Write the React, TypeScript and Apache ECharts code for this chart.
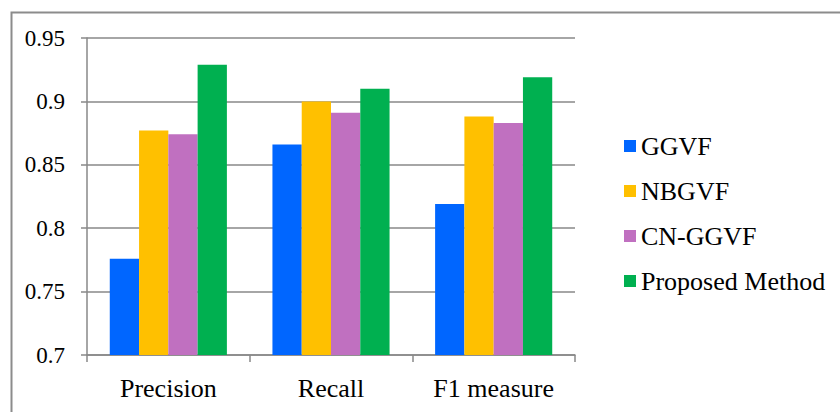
import React, { useEffect, useRef } from "react";
import * as echarts from "echarts";

const categories = ["Precision", "Recall", "F1 measure"];
const seriesNames = ["GGVF", "NBGVF", "CN-GGVF", "Proposed Method"];
const ggvf = [0.776, 0.866, 0.819];
const nbgvf = [0.877, 0.9, 0.888];
const cnggvf = [0.874, 0.891, 0.883];
const proposed = [0.929, 0.91, 0.919];
const colors = ["#0066FF", "#FFC000", "#C070C0", "#00B050"];
const yMin = 0.7;
const yMax = 0.95;
const yStep = 0.05;

const FONT = "Liberation Serif";

export default function App() {
  const ref = useRef<HTMLDivElement>(null);
  useEffect(() => {
    if (!ref.current) return;
    const chart = echarts.init(ref.current, undefined, { renderer: "svg" });
    const values = [ggvf, nbgvf, cnggvf, proposed];
    chart.setOption({
      animation: false,
      backgroundColor: "#ffffff",
      textStyle: { fontFamily: FONT, color: "#000" },
      grid: { left: 87, right: 265, top: 38, bottom: 57, containLabel: false },
      legend: {
        orient: "vertical",
        left: 619,
        top: 128,
        icon: "rect",
        itemWidth: 12,
        itemHeight: 12,
        itemGap: 19,
        textStyle: { fontFamily: FONT, fontSize: 26, color: "#000", lineHeight: 26 },
        data: seriesNames,
      },
      xAxis: {
        type: "category",
        data: categories,
        axisLine: { show: true, lineStyle: { color: "#888888", width: 1.5 } },
        axisTick: { show: true, length: 7, lineStyle: { color: "#888888", width: 1.5 } },
        axisLabel: { fontFamily: FONT, fontSize: 26, color: "#000", margin: 20 },
      },
      yAxis: {
        type: "value",
        min: yMin,
        max: yMax,
        interval: yStep,
        axisLine: { show: true, lineStyle: { color: "#888888", width: 1.5 } },
        axisTick: { show: true, length: 6, lineStyle: { color: "#888888", width: 1.5 } },
        splitLine: { show: true, lineStyle: { color: "#888888", width: 1.5 } },
        axisLabel: {
          fontFamily: FONT,
          fontSize: 23,
          color: "#000",
          margin: 22,
          formatter: (v: number) => String(+v.toFixed(2)),
        },
      },
      series: seriesNames.map((name, i) => ({
        name,
        type: "bar",
        data: values[i],
        barGap: "0%",
        barCategoryGap: "28%",
        itemStyle: { color: colors[i] },
      })),
      graphic: [
        {
          type: "rect",
          left: 9,
          top: 10,
          shape: { x: 0, y: 0, width: 900, height: 500 },
          style: { fill: "none", stroke: "#8c8c8c", lineWidth: 2 },
          silent: true,
        },
      ],
    });
    return () => chart.dispose();
  }, []);
  return (
    <div
      ref={ref}
      style={{ position: "fixed", left: 0, top: 0, width: 840, height: 412 }}
    />
  );
}
